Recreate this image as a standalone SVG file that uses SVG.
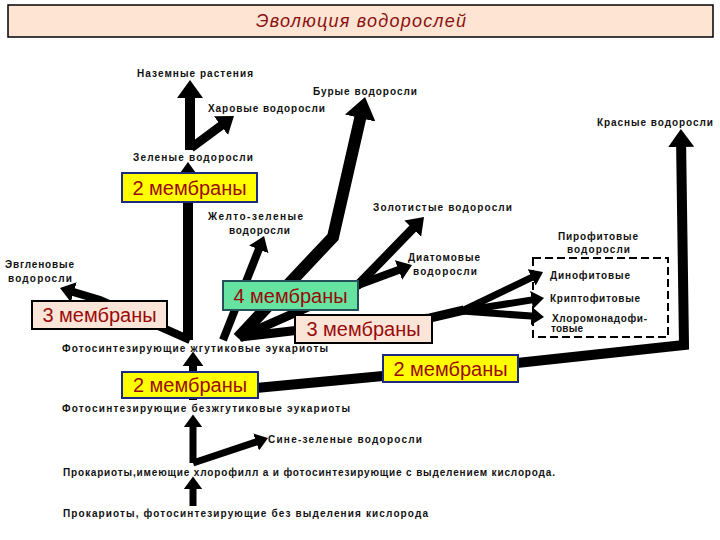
<svg xmlns="http://www.w3.org/2000/svg" width="720" height="540" viewBox="0 0 720 540">
<defs>
<marker id="ah" viewBox="0 0 18 26" refX="10" refY="13" markerWidth="1.8" markerHeight="2.6" markerUnits="strokeWidth" orient="auto">
<path d="M0,0 L18,13 L0,26 Z" fill="#000"/>
</marker>
<style>
.c{fill:none;stroke:#000;stroke-linejoin:miter;stroke-linecap:butt}
.a{marker-end:url(#ah)}
.lbl{font-family:"Liberation Sans",Arial,sans-serif;font-size:10px;font-weight:bold;fill:#111}
.bt{font-family:"Liberation Sans",Arial,sans-serif;font-size:20px;fill:#990a0a;text-anchor:middle}
.y{fill:#ffff00;stroke:#1c2a80;stroke-width:2}
.p{fill:#fbe5d8;stroke:#000;stroke-width:2}
.g{fill:#66e3a0;stroke:#24505a;stroke-width:2}
</style>
</defs>
<rect width="720" height="540" fill="#fff"/>
<g id="title">
<rect x="8" y="5" width="705" height="32" fill="#fde4d3" stroke="#000" stroke-width="1.5"/>
<text x="361" y="27" font-family="Liberation Sans, Arial, sans-serif" font-size="18" font-style="italic" fill="#8b1010" text-anchor="middle" textLength="210">Эволюция водорослей</text>
</g>
<g id="connectors">
<polyline class="c a" stroke-width="7" points="193,506 193,482"/>
<polyline class="c a" stroke-width="7" points="193,463 193,420"/>
<polyline class="c a" stroke-width="7" points="193,463 262.7,439.8"/>
<polyline class="c a" stroke-width="8" points="193,400 193,358"/>
<polyline class="c a" stroke-width="10" points="188,340 188,170"/>
<polyline class="c a" stroke-width="10" points="190,150 190,88"/>
<polyline class="c a" stroke-width="9" points="191,148 228.2,120.3"/>
<polyline class="c a" stroke-width="8" points="190,340 100,300 66.1,289.8"/>
<polyline class="c a" stroke-width="8" points="223,340 261.7,242"/>
<polyline class="c a" stroke-width="12" points="238,338 333,237 362.9,106.4"/>
<polyline class="c a" stroke-width="9" points="240,337 358,285 419,222.2"/>
<polyline class="c a" stroke-width="8" points="358,285 406,267.2"/>
<polyline class="c" stroke-width="9" points="240,337 300,330 430,318 464,310"/>
<polyline class="c a" stroke-width="7" points="462,311 538,274.4"/>
<polyline class="c a" stroke-width="7" points="462,311 538.5,298.9"/>
<polyline class="c a" stroke-width="7" points="462,311 538.4,316.6"/>
<polyline class="c a" stroke-width="10" points="256,388 383,376 517,363 684,345 681,137"/>
</g>
<g id="pyro-group">
<rect x="533" y="258" width="135" height="79" fill="none" stroke="#000" stroke-width="2" stroke-dasharray="8,4"/>
<text class="lbl" x="558" y="240" textLength="80">Пирофитовые</text>
<text class="lbl" x="567" y="253" textLength="63">водоросли</text>
</g>
<g id="n-land"><text class="lbl" x="137" y="77" textLength="116">Наземные растения</text></g>
<g id="n-charo"><text class="lbl" x="208" y="112" textLength="117">Харовые водоросли</text></g>
<g id="n-brown"><text class="lbl" x="313" y="95" textLength="104">Бурые водоросли</text></g>
<g id="n-red"><text class="lbl" x="597" y="126" textLength="116">Красные водоросли</text></g>
<g id="n-green"><text class="lbl" x="133" y="161" textLength="120">Зеленые водоросли</text></g>
<g id="n-xantho">
<text class="lbl" x="208" y="220" textLength="95">Желто-зеленые</text>
<text class="lbl" x="229" y="234" textLength="61">водоросли</text>
</g>
<g id="n-golden"><text class="lbl" x="373" y="211" textLength="139">Золотистые водоросли</text></g>
<g id="n-diatom">
<text class="lbl" x="408" y="261" textLength="72">Диатомовые</text>
<text class="lbl" x="413" y="275" textLength="64">водоросли</text>
</g>
<g id="n-dino"><text class="lbl" x="550" y="279" textLength="80">Динофитовые</text></g>
<g id="n-crypto"><text class="lbl" x="550" y="302" textLength="90">Криптофитовые</text></g>
<g id="n-chloromonad">
<text class="lbl" x="552" y="322" textLength="95">Хлоромонадофи-</text>
<text class="lbl" x="551" y="332" textLength="32">товые</text>
</g>
<g id="n-euglena">
<text class="lbl" x="5" y="268" textLength="69">Эвгленовые</text>
<text class="lbl" x="8" y="282" textLength="64">водоросли</text>
</g>
<g id="n-flag"><text class="lbl" x="62" y="352" textLength="266">Фотосинтезирующие  жгутиковые эукариоты</text></g>
<g id="n-noflag"><text class="lbl" x="62" y="412" textLength="288">Фотосинтезирующие  безжгутиковые эукариоты</text></g>
<g id="n-cyano"><text class="lbl" x="268" y="443" textLength="154">Сине-зеленые водоросли</text></g>
<g id="n-prok-o2"><text class="lbl" x="63" y="476" textLength="492">Прокариоты,имеющие хлорофилл а и фотосинтезирующие с выделением кислорода.</text></g>
<g id="n-prok"><text class="lbl" x="63" y="517" textLength="365">Прокариоты, фотосинтезирующие без выделения кислорода</text></g>
<g id="b-2m-top">
<rect class="y" x="122" y="173" width="135" height="29"/>
<text class="bt" x="189.5" y="194.5">2 мембраны</text>
</g>
<g id="b-3m-left">
<rect class="p" x="32" y="301" width="135" height="28"/>
<text class="bt" x="99.5" y="322">3 мембраны</text>
</g>
<g id="b-4m">
<rect class="g" x="223" y="281" width="135" height="29"/>
<text class="bt" x="290.5" y="302.5">4 мембраны</text>
</g>
<g id="b-3m-right">
<rect class="p" x="295" y="315" width="137" height="28"/>
<text class="bt" x="363.5" y="336">3 мембраны</text>
</g>
<g id="b-2m-low">
<rect class="y" x="122" y="372" width="136" height="26"/>
<text class="bt" x="190" y="392">2 мембраны</text>
</g>
<g id="b-2m-right">
<rect class="y" x="383" y="355" width="135" height="27"/>
<text class="bt" x="450.5" y="375.5">2 мембраны</text>
</g>
</svg>
